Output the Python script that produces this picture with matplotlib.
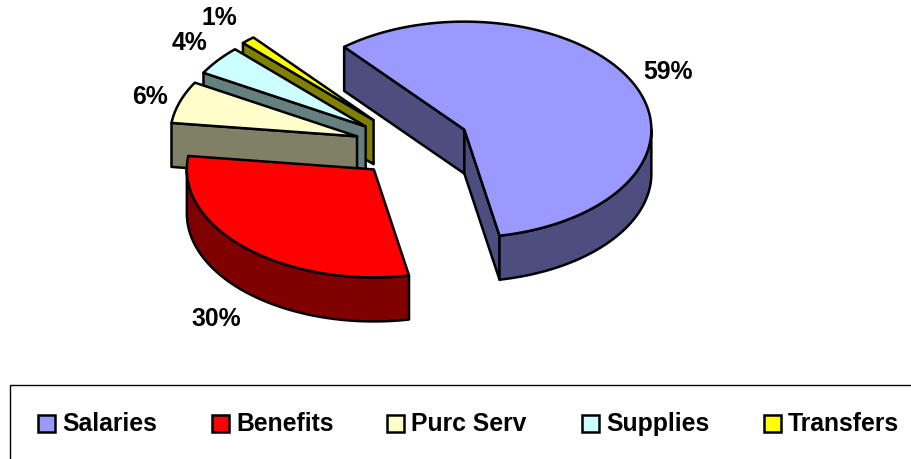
"""
Exploded 3D-style pie of spending shares, with a boxed legend underneath.
"""

import numpy as np
import matplotlib
matplotlib.use('Agg')
import matplotlib.pyplot as plt
from matplotlib.patches import Polygon, Rectangle

# ---- data
categories = ['Salaries', 'Benefits', 'Purc Serv', 'Supplies', 'Transfers']
shares = [58.1, 30.0, 6.3, 4.4, 1.2]  # as drawn
pct_labels = ['59%', '30%', '6%', '4%', '1%']

top_colors = ['#9999FF', '#FF0000', '#FFFFCC', '#CCFFFF', '#FFFF00']
side_colors = ['#4D4D80', '#800000', '#808066', '#668080', '#808000']

# ---- geometry, in pixels of the 911x459 picture
CX, CY = 412, 144
RX, RY = 187, 108
DEPTH = 44
EXPLODE = 0.31
START = 130.0
nudge = [(0, 0), (1.5, 1), (0, 3), (-0.5, 3), (0.5, 1)]  # small per-slice fixes

label_xy = [(668, 72), (216, 319), (150, 97), (190, 43), (219, 18)]
legend_x = [38, 212, 387, 582, 764]
legend_y = 423.5


def ellipse_pts(cx, cy, t0, t1, n=120):
    t = np.radians(np.linspace(t0, t1, n))
    return np.column_stack([cx + RX * np.cos(t), cy - RY * np.sin(t)])


def draw_slice(ax, t0, t1, top, side, off):
    """t0 > t1, going clockwise. Sides first, the lid last."""
    mid = np.radians((t0 + t1) / 2)
    cx = CX + EXPLODE * RX * np.cos(mid) + off[0]
    cy = CY - EXPLODE * RY * np.sin(mid) + off[1]
    down = np.array([0, DEPTH])
    apex = np.array([cx, cy])
    kw = dict(edgecolor='black', lw=1.8, joinstyle='round')

    # radial walls, only those turned to the viewer
    for t, visible in ((t0, np.cos(np.radians(t0)) < 0),
                       (t1, np.cos(np.radians(t1)) > 0)):
        if visible:
            rim = ellipse_pts(cx, cy, t, t, 1)[0]
            ax.add_patch(Polygon([apex, rim, rim + down, apex + down],
                                 facecolor=side, **kw))

    # outer wall, only the part facing the viewer (lower half of the ellipse)
    for shift in (0, -360):
        a, b = max(t1, -180.0 + shift), min(t0, 0.0 + shift)
        if b > a:
            arc = ellipse_pts(cx, cy, a, b)
            ax.add_patch(Polygon(np.vstack([arc, (arc + down)[::-1]]),
                                 facecolor=side, **kw))

    arc = ellipse_pts(cx, cy, t0, t1)
    ax.add_patch(Polygon(np.vstack([apex, arc]), facecolor=top, **kw))


fig = plt.figure(figsize=(9.11, 4.59), dpi=100)
ax = fig.add_axes([0, 0, 1, 1])
ax.set_xlim(0, 911)
ax.set_ylim(459, 0)
ax.axis('off')

plt.rcParams['font.family'] = ['Liberation Sans', 'DejaVu Sans']

sweeps = np.array(shares) / sum(shares) * 360
ends = START - np.cumsum(sweeps)
starts = ends + sweeps

# back slices first, the two big ones on top
for i in [4, 3, 2, 1, 0]:
    draw_slice(ax, starts[i], ends[i], top_colors[i], side_colors[i], nudge[i])

for (x, y), s in zip(label_xy, pct_labels):
    ax.text(x, y, s, ha='center', va='center', fontsize=17.8, fontweight='bold',
            color='black')

# legend box, runs off the picture at right and bottom
ax.add_patch(Rectangle((10, 385), 1000, 200, facecolor='white', edgecolor='black',
                       lw=1.0))
for x, name, col in zip(legend_x, categories, top_colors):
    ax.add_patch(Rectangle((x, legend_y - 8.5), 17, 17, facecolor=col,
                           edgecolor='black', lw=1.8))
    ax.text(x + 24, legend_y + 0.5, name, ha='left', va='center', fontsize=17.8,
            fontweight='bold', color='black')

fig.savefig('out.png', dpi=100)
